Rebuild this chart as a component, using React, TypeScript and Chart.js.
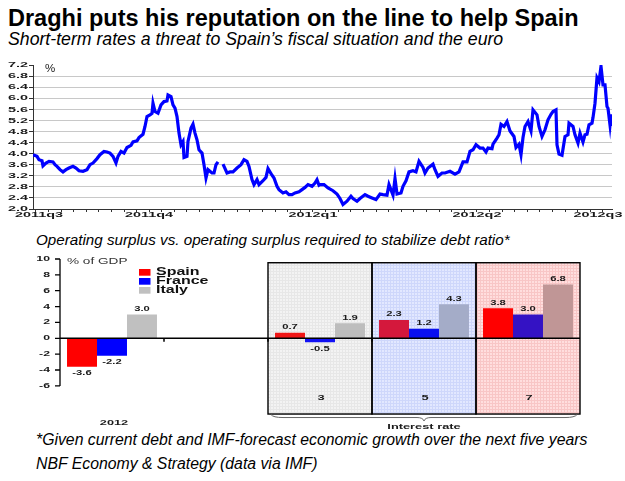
import React, { useEffect, useRef } from "react";
import { Chart, registerables } from "chart.js";
Chart.register(...registerables);

// ---------- Top chart: Spain 2-year yield (%), observation index ----------
const rateObs = [
  0, 4, 6, 9, 10, 13, 16, 20, 22, 24, 27, 30, 33, 36, 40, 43, 46, 50, 54, 57, 60, 64, 67, 71, 74, 77, 80, 83, 85, 88,
  91, 94, 98, 100, 104, 106, 110, 112, 114, 117, 119, 120, 122, 125, 128, 131, 134, 135, 138, 140, 142, 144, 146, 148,
  150, 151, 154, 155, 158, 160, 162, 164, 166, 169, 171, 173, 175, 179, 181, 183, 185, 187, 190, 194, 197, 200, 204,
  208, 211, 214, 216, 219, 221, 224, 226, 230, 233, 235, 239, 241, 244, 246, 250, 253, 256, 259, 262, 266, 269, 272,
  275, 279, 282, 284, 286, 287, 291, 295, 300, 304, 307, 310, 314, 318, 320, 324, 327, 332, 335, 339, 343, 347, 350,
  354, 356, 360, 362, 364, 368, 370, 373, 376, 380, 383, 386, 390, 392, 395, 400, 402, 405, 409, 412, 417, 422, 426,
  430, 434, 437, 440, 443, 447, 450, 453, 455, 459, 460, 464, 466, 468, 471, 474, 477, 481, 483, 486, 488, 490, 492,
  495, 498, 500, 504, 506, 509, 512, 515, 518, 520, 523, 524, 526, 529, 532, 535, 536, 540, 542, 545, 547, 550, 552,
  554, 556, 559, 560, 562, 564, 566, 568, 570, 572, 574, 575, 577, 578, 579,
];
const rateValues: (number | null)[] = [
  3.96, 3.9, 3.78, 3.74, 3.56, 3.66, 3.72, 3.7, 3.6, 3.54, 3.42, 3.34, 3.42, 3.48, 3.54, 3.48, 3.38, 3.36, 3.42, 3.6,
  3.66, 3.82, 3.96, 4.08, 4.06, 4.02, 3.9, 3.66, 3.9, 4.08, 4.02, 4.22, 4.3, 4.42, 4.46, 4.58, 4.7, 4.98, 5.34, 5.4,
  5.45, 5.82, 5.52, 5.46, 5.76, 5.88, 5.9, 6.12, 6.06, 5.76, 5.64, 5.34, 4.74, 4.32, 4.44, 3.86, 3.9, 4.44, 4.92, 5.06,
  4.74, 4.5, 4.14, 4.02, 3.6, 3.12, 3.42, 3.3, 3.3, 3.6, 3.7, null, 3.62, 3.3, 3.34, 3.34, 3.48, 3.6, 3.78, 3.72, 3.54,
  3.06, 2.88, 3.06, 2.88, 3.02, 3.14, 3.46, 3.22, 3.12, 2.82, 2.7, 2.58, 2.62, 2.52, 2.52, 2.58, 2.62, 2.7, 2.78, 2.88,
  2.82, 2.94, 3.06, 2.86, 2.88, 2.88, 2.76, 2.66, 2.54, 2.38, 2.16, 2.28, 2.46, 2.38, 2.28, 2.38, 2.52, 2.46, 2.4, 2.34,
  2.54, 2.52, 2.5, 2.88, 2.5, 3.1, 2.54, 2.58, 2.82, 3.02, 3.34, 3.38, 3.34, 3.72, 3.5, 3.3, 3.48, 3.62, 3.42, 3.18,
  3.3, 3.3, 3.36, 3.26, 3.34, 3.7, 3.7, 4.08, 4.14, 4.32, 4.2, 4.2, 4.06, 4.2, 4.18, 4.34, 4.56, 4.68, 5.06, 4.98, 5.16,
  4.82, 4.62, 4.22, 4.34, 3.96, 4.58, 4.98, 5.16, 4.82, 5.58, 5.4, 4.98, 4.62, 4.86, 5.22, 5.42, 5.52, 5.58, 4.32,
  3.98, 3.94, 4.62, 4.68, 5.1, 4.98, 4.68, 4.38, 4.74, 4.42, 4.68, 4.7, 5.04, 5.1, 5.3, 5.82, 6.74, 6.6, 7.15, 6.48,
  6.48, 5.7, 5.64, 5.04, 5.42, 5.0,
];
const quarterTickObs = [6, 116, 280, 444, 565];
const quarterTickLabels = ["2011q3", "2011q4", "2012q1", "2012q2", "2012q3"];
const rateAxisMin = 2.0;
const rateAxisMax = 7.2;
const rateAxisStep = 0.4;
const rateObsMax = 579;
const weekObsStep = 12.6;

// ---------- Bottom chart: operating surplus (% of GDP) ----------
const groupLabels = ["2012", "", "3", "5", "7"];
const seriesNames = ["Spain", "France", "Italy"];
const spainValues: (number | null)[] = [-3.6, null, 0.7, 2.3, 3.8];
const franceValues: (number | null)[] = [-2.2, null, -0.5, 1.2, 3.0];
const italyValues: (number | null)[] = [3.0, null, 1.9, 4.3, 6.8];
const surplusTicks = [10, 8, 6, 4, 2, 0, -2, -4, -6];
const panelGroups = [2, 3, 4];

// styles
const seriesColors = ["#ff0000", "#0000ff", "#c0c0c0"];
const spainColors = ["#ff0000", "#ff0000", "#f01616", "#d4183c", "#ff0000"];
const franceColors = ["#0000ff", "#0000ff", "#1010f4", "#0a10f0", "#3412c4"];
const italyColors = ["#c0c0c0", "#c0c0c0", "#bdbdbd", "#a4acc8", "#c09696"];
const panelFills = [
  ["#f3f3f3", "#e7e7e7"],
  ["#e2e8ff", "#ced7fb"],
  ["#ffdede", "#f8c6c6"],
];

const FONT = '"Liberation Sans", Arial, Helvetica, sans-serif';

function stretchText(
  ctx: CanvasRenderingContext2D,
  text: string,
  x: number,
  y: number,
  font: string,
  sx: number,
  align: CanvasTextAlign,
  color = "#1a1a1a"
) {
  ctx.save();
  ctx.font = font;
  ctx.fillStyle = color;
  ctx.textAlign = align;
  ctx.textBaseline = "middle";
  ctx.translate(x, y);
  ctx.scale(sx, 1);
  ctx.fillText(text, 0, 0);
  ctx.restore();
}

function meshPattern(ctx: CanvasRenderingContext2D, base: string, line: string) {
  const c = document.createElement("canvas");
  c.width = 3;
  c.height = 3;
  const g = c.getContext("2d")!;
  g.fillStyle = base;
  g.fillRect(0, 0, 3, 3);
  g.fillStyle = line;
  g.fillRect(0, 0, 3, 1);
  g.fillRect(0, 0, 1, 3);
  return ctx.createPattern(c, "repeat");
}

const topTextPlugin = {
  id: "topText",
  afterDraw(chart: any) {
    const ctx = chart.ctx as CanvasRenderingContext2D;
    const ys = chart.scales.y;
    const xs = chart.scales.x;
    const area = chart.chartArea;
    ys.ticks.forEach((t: any) => {
      stretchText(ctx, t.value.toFixed(1), area.left - 5, ys.getPixelForValue(t.value), `bold 8px ${FONT}`, 1.8, "right");
    });
    quarterTickObs.forEach((v, i) => {
      stretchText(ctx, quarterTickLabels[i], xs.getPixelForValue(v), area.bottom + 6, `bold 8px ${FONT}`, 1.8, "center");
    });
    stretchText(ctx, "%", area.left + 12, area.top + 4, `11.5px ${FONT}`, 1, "left");
  },
};

const panelPlugin = {
  id: "panels",
  beforeDatasetsDraw(chart: any) {
    const ctx = chart.ctx as CanvasRenderingContext2D;
    const xs = chart.scales.x;
    const ys = chart.scales.y;
    const catW = (chart.chartArea.right - chart.chartArea.left) / groupLabels.length;
    const top = ys.getPixelForValue(9.53);
    const bottom = ys.getPixelForValue(-9.55);
    panelGroups.forEach((g, k) => {
      const cx = xs.getPixelForValue(g);
      const l = cx - catW / 2;
      const pat = meshPattern(ctx, panelFills[k][0], panelFills[k][1]);
      ctx.save();
      ctx.fillStyle = pat || panelFills[k][0];
      ctx.fillRect(l, top, catW, bottom - top);
      ctx.restore();
    });
  },
  afterDatasetsDraw(chart: any) {
    const ctx = chart.ctx as CanvasRenderingContext2D;
    const xs = chart.scales.x;
    const ys = chart.scales.y;
    const area = chart.chartArea;
    const catW = (area.right - area.left) / groupLabels.length;
    const top = ys.getPixelForValue(9.53);
    const bottom = ys.getPixelForValue(-9.55);
    const y0 = ys.getPixelForValue(0);

    // panel borders + group numbers
    ctx.save();
    ctx.strokeStyle = "#000";
    ctx.lineWidth = 1.4;
    panelGroups.forEach((g) => {
      const cx = xs.getPixelForValue(g);
      ctx.strokeRect(cx - catW / 2, top, catW, bottom - top);
      stretchText(ctx, groupLabels[g], cx + 1, ys.getPixelForValue(-7.5), `bold 8px ${FONT}`, 1.6, "center");
    });
    ctx.restore();

    // brace under panels
    const bl = xs.getPixelForValue(panelGroups[0]) - catW / 2 + 3;
    const br = xs.getPixelForValue(panelGroups[panelGroups.length - 1]) + catW / 2 - 3;
    const bm = (bl + br) / 2;
    const by = bottom + 3.5;
    ctx.save();
    ctx.strokeStyle = "#666";
    ctx.lineWidth = 1;
    ctx.beginPath();
    ctx.moveTo(bl, bottom + 0.5);
    ctx.quadraticCurveTo(bl + 2, by, bl + 12, by);
    ctx.lineTo(bm - 7, by);
    ctx.quadraticCurveTo(bm - 1, by, bm, by + 3.5);
    ctx.quadraticCurveTo(bm + 1, by, bm + 7, by);
    ctx.lineTo(br - 12, by);
    ctx.quadraticCurveTo(br - 2, by, br, bottom + 0.5);
    ctx.stroke();
    ctx.restore();
    stretchText(ctx, "Interest rate", bm, bottom + 12.5, `bold 8px ${FONT}`, 1.6, "center");

    // zero line and boundary ticks
    ctx.save();
    ctx.strokeStyle = "#000";
    ctx.lineWidth = 1.5;
    ctx.beginPath();
    ctx.moveTo(area.left, y0);
    ctx.lineTo(area.right, y0);
    for (let k = 1; k < groupLabels.length; k++) {
      const bx = area.left + k * catW;
      ctx.moveTo(bx, y0);
      ctx.lineTo(bx, y0 + 3.5);
    }
    ctx.stroke();

    // y axis
    ctx.lineWidth = 1.3;
    ctx.beginPath();
    ctx.moveTo(area.left, ys.getPixelForValue(surplusTicks[0]));
    ctx.lineTo(area.left, ys.getPixelForValue(surplusTicks[surplusTicks.length - 1]));
    surplusTicks.forEach((v) => {
      const py = ys.getPixelForValue(v);
      ctx.moveTo(area.left - 5, py);
      ctx.lineTo(area.left, py);
    });
    ctx.stroke();
    ctx.restore();
    surplusTicks.forEach((v) => {
      stretchText(ctx, String(v), area.left - 10, ys.getPixelForValue(v), `bold 7px ${FONT}`, 1.75, "right");
    });

    // value labels
    chart.data.datasets.forEach((ds: any, d: number) => {
      const meta = chart.getDatasetMeta(d);
      ds.data.forEach((v: number | null, i: number) => {
        if (v === null || v === undefined) return;
        const el = meta.data[i];
        const ly = v >= 0 ? el.y - 5.5 : el.y + 6.5;
        stretchText(ctx, v.toFixed(1), el.x, ly, `bold 7px ${FONT}`, 1.6, "center");
      });
    });

    // category label
    stretchText(ctx, groupLabels[0], xs.getPixelForValue(0) + 2, area.bottom + 5.5, `bold 7.5px ${FONT}`, 1.7, "center");

    // unit
    stretchText(ctx, "% of GDP", area.left + 7, area.top + 2.5, `8.5px ${FONT}`, 1.6, "left", "#333");

    // legend
    seriesNames.forEach((name, i) => {
      const ly = area.top + 13.3 + i * 9;
      ctx.save();
      ctx.fillStyle = seriesColors[i];
      ctx.fillRect(139, ly - 3.3, 11.5, 6.7);
      ctx.restore();
      stretchText(ctx, name, 156, ly, `bold 10px ${FONT}`, 1.6, "left", "#111");
    });
  },
};

function Txt(props: { x: number; base: number; size: number; bold?: boolean; italic?: boolean; text: string; sx?: number }) {
  const { x, base, size, bold, italic, text, sx } = props;
  return (
    <div
      style={{
        position: "absolute",
        left: x,
        top: base - 0.8465 * size,
        fontFamily: FONT,
        fontSize: size,
        lineHeight: `${size}px`,
        fontWeight: bold ? "bold" : "normal",
        fontStyle: italic ? "italic" : "normal",
        whiteSpace: "nowrap",
        color: "#000",
        transform: sx ? `scaleX(${sx})` : undefined,
        transformOrigin: "left top",
      }}
    >
      {text}
    </div>
  );
}

export default function App() {
  const topRef = useRef<HTMLCanvasElement>(null);
  const botRef = useRef<HTMLCanvasElement>(null);

  useEffect(() => {
    const weekTicks: number[] = [];
    for (let v = quarterTickObs[2] - Math.floor(quarterTickObs[2] / weekObsStep) * weekObsStep; v <= rateObsMax; v += weekObsStep) {
      weekTicks.push(v);
    }
    const top = new Chart(topRef.current!, {
      type: "line",
      data: {
        datasets: [
          {
            data: rateObs.map((x, i) => ({ x, y: rateValues[i] })) as any,
            borderColor: "#0000ff",
            borderWidth: 3.2,
            pointRadius: 0,
            spanGaps: false,
            tension: 0,
          },
        ],
      },
      options: {
        animation: false,
        responsive: false,
        maintainAspectRatio: false,
        layout: { padding: { left: 0, right: 13, top: 10, bottom: 0 } },
        plugins: { legend: { display: false }, tooltip: { enabled: false } },
        scales: {
          x: {
            type: "linear",
            min: 0,
            max: rateObsMax,
            afterBuildTicks: (s: any) => {
              s.ticks = weekTicks.map((v) => ({ value: v }));
            },
            afterFit: (s: any) => {
              s.height = 16;
            },
            grid: { drawOnChartArea: false, drawTicks: true, tickLength: 3, tickColor: "#333" },
            border: { color: "#333", width: 1 },
            ticks: { display: false },
          },
          y: {
            min: rateAxisMin,
            max: rateAxisMax,
            ticks: { stepSize: rateAxisStep, display: false },
            afterFit: (s: any) => {
              s.width = 33;
            },
            grid: {
              color: (c: any) => (Math.abs(c.tick.value - rateAxisMax) < 1e-6 ? "rgba(0,0,0,0)" : "#c8c8c8"),
              tickLength: 4,
              tickColor: "#333",
            },
            border: { color: "#333", width: 1 },
          },
        },
      } as any,
      plugins: [topTextPlugin],
    });

    const bot = new Chart(botRef.current!, {
      type: "bar",
      data: {
        labels: groupLabels,
        datasets: [
          { label: seriesNames[0], data: spainValues, backgroundColor: spainColors },
          { label: seriesNames[1], data: franceValues, backgroundColor: franceColors },
          { label: seriesNames[2], data: italyValues, backgroundColor: italyColors },
        ] as any,
      },
      options: {
        animation: false,
        responsive: false,
        maintainAspectRatio: false,
        layout: { padding: { left: 60, right: 45, top: 9, bottom: 22.4 } },
        datasets: { bar: { categoryPercentage: 0.865, barPercentage: 1, borderWidth: 0 } },
        plugins: { legend: { display: false }, tooltip: { enabled: false } },
        scales: {
          x: { display: false },
          y: { display: false, min: -10, max: 10 },
        },
      } as any,
      plugins: [panelPlugin],
    });

    return () => {
      top.destroy();
      bot.destroy();
    };
  }, []);

  return (
    <div style={{ position: "absolute", left: 0, top: 0, width: 625, height: 481, background: "#fff", overflow: "hidden" }}>
      <Txt x={8} base={26.5} size={23.5} bold text="Draghi puts his reputation on the line to help Spain" />
      <Txt x={8} base={45.5} size={17.7} italic text="Short-term rates a threat to Spain’s fiscal situation and the euro" />
      <Txt x={36} base={245} size={15.2} italic text="Operating surplus vs. operating surplus required to stabilize debt ratio*" />
      <Txt x={36} base={445.5} size={15.8} italic text="*Given current debt and IMF-forecast economic growth over the next five years" />
      <Txt x={36} base={469.5} size={15.8} italic text="NBF Economy & Strategy (data via IMF)" />
      <canvas ref={topRef} width={625} height={170} style={{ position: "absolute", left: 0, top: 55 }} />
      <canvas ref={botRef} width={625} height={190} style={{ position: "absolute", left: 0, top: 250 }} />
    </div>
  );
}
